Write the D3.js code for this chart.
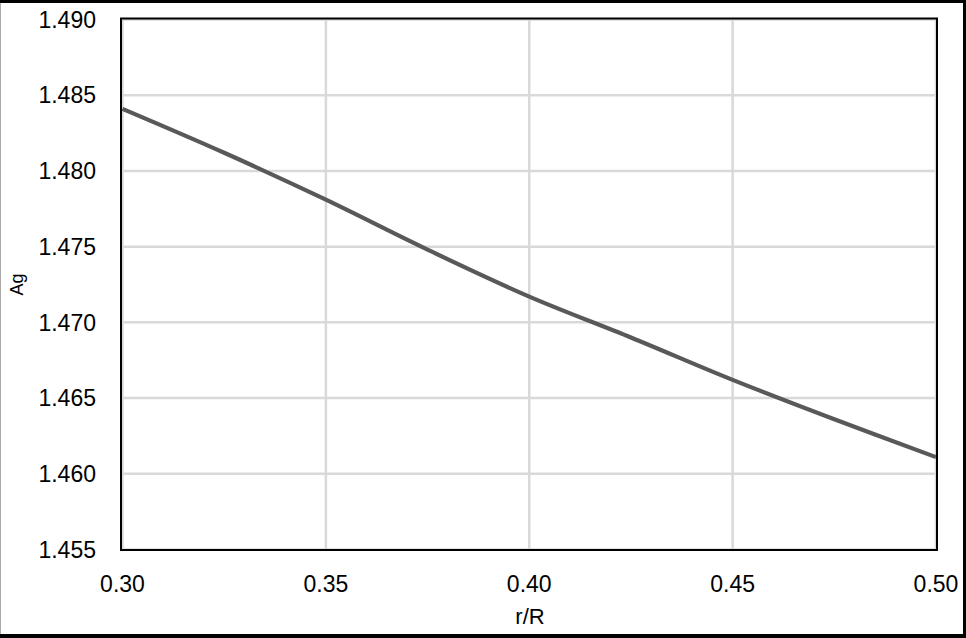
<!DOCTYPE html>
<html>
<head>
<meta charset="utf-8">
<script src="https://cdn.jsdelivr.net/npm/d3@7"></script>
<style>
body{margin:0;background:#fff;}
svg{display:block;}
.tick_label{font-family:"Liberation Sans",Arial,sans-serif;font-size:23px;fill:#000;}
.axis_title{font-family:"Liberation Sans",Arial,sans-serif;fill:#000;}
</style>
</head>
<body>
<div id="content"></div>
<script>
//chart data
var r_values=[0.30,0.325,0.35,0.375,0.40,0.425,0.45,0.475,0.50];
var ag_values=[1.4841,1.4812,1.4781,1.4748,1.4717,1.4690,1.4662,1.4636,1.4611];
var x_ticks=[0.30,0.35,0.40,0.45,0.50];
var y_ticks=[1.455,1.460,1.465,1.470,1.475,1.480,1.485,1.490];
var x_label='r/R';
var y_label='Ag';

//layout constants
var svg_width=966;
var svg_height=638;
var margin={top:19.5, right:30, bottom:88.5, left:122.5};
var chart_width=svg_width-margin.left-margin.right;
var chart_height=svg_height-margin.top-margin.bottom;
var lineColor='#595959';
var gridColor='#d9d9d9';

var svg=d3.select('#content').append('svg')
	.attr('width',svg_width)
	.attr('height',svg_height);

svg.append('rect').attr('width',svg_width).attr('height',svg_height).attr('fill','#fff');

var xScale=d3.scaleLinear().domain([0.30,0.50]).range([margin.left, margin.left+chart_width]);
var yScale=d3.scaleLinear().domain([1.455,1.490]).range([margin.top+chart_height, margin.top]);

//gridlines
svg.selectAll('.hgrid')
	.data(y_ticks)
	.enter().append('line')
	.attr('class','hgrid')
	.attr('x1',xScale(0.30)).attr('x2',xScale(0.50))
	.attr('y1',function(d){return yScale(d);})
	.attr('y2',function(d){return yScale(d);})
	.attr('stroke',gridColor).attr('stroke-width',2.5);

svg.selectAll('.vgrid')
	.data(x_ticks)
	.enter().append('line')
	.attr('class','vgrid')
	.attr('y1',yScale(1.455)).attr('y2',yScale(1.490))
	.attr('x1',function(d){return xScale(d);})
	.attr('x2',function(d){return xScale(d);})
	.attr('stroke',gridColor).attr('stroke-width',2.5);

//the curve
var line=d3.line()
	.x(function(d,i){return xScale(r_values[i]);})
	.y(function(d){return yScale(d);})
	.curve(d3.curveCatmullRom.alpha(0.5));

svg.append('path')
	.datum(ag_values)
	.attr('d',line)
	.attr('fill','none')
	.attr('stroke',lineColor)
	.attr('stroke-width',4.2);

//plot border
svg.append('rect')
	.attr('x',xScale(0.30)-1.5)
	.attr('y',yScale(1.490)-1)
	.attr('width',xScale(0.50)-xScale(0.30)+2.5)
	.attr('height',yScale(1.455)-yScale(1.490)+1.5)
	.attr('fill','none')
	.attr('stroke','#000')
	.attr('stroke-width',2);

//tick labels
svg.selectAll('.ylab')
	.data(y_ticks)
	.enter().append('text')
	.attr('class','tick_label')
	.attr('x',96)
	.attr('y',function(d){return yScale(d);})
	.attr('dy','0.36em')
	.attr('text-anchor','end')
	.text(function(d){return d3.format('.3f')(d);});

svg.selectAll('.xlab')
	.data(x_ticks)
	.enter().append('text')
	.attr('class','tick_label')
	.attr('x',function(d){return xScale(d);})
	.attr('y',591.5)
	.attr('text-anchor','middle')
	.text(function(d){return d3.format('.2f')(d);});

//axis titles
svg.append('text')
	.attr('class','axis_title')
	.attr('transform','translate(23,'+(margin.top+chart_height/2)+') rotate(-90)')
	.attr('text-anchor','middle')
	.style('font-size','18px')
	.text(y_label);

svg.append('text')
	.attr('class','axis_title')
	.attr('x',530)
	.attr('y',624)
	.attr('text-anchor','middle')
	.style('font-size','22px')
	.text(x_label);

//outer frame
svg.append('line').attr('x1',0).attr('x2',svg_width).attr('y1',1.5).attr('y2',1.5).attr('stroke','#000').attr('stroke-width',3);
svg.append('line').attr('x1',0).attr('x2',svg_width).attr('y1',636).attr('y2',636).attr('stroke','#000').attr('stroke-width',4);
svg.append('line').attr('x1',964.5).attr('x2',964.5).attr('y1',0).attr('y2',svg_height).attr('stroke','#000').attr('stroke-width',3);
svg.append('line').attr('x1',0.5).attr('x2',0.5).attr('y1',3).attr('y2',634).attr('stroke','#aaa').attr('stroke-width',1);
</script>
</body>
</html>
